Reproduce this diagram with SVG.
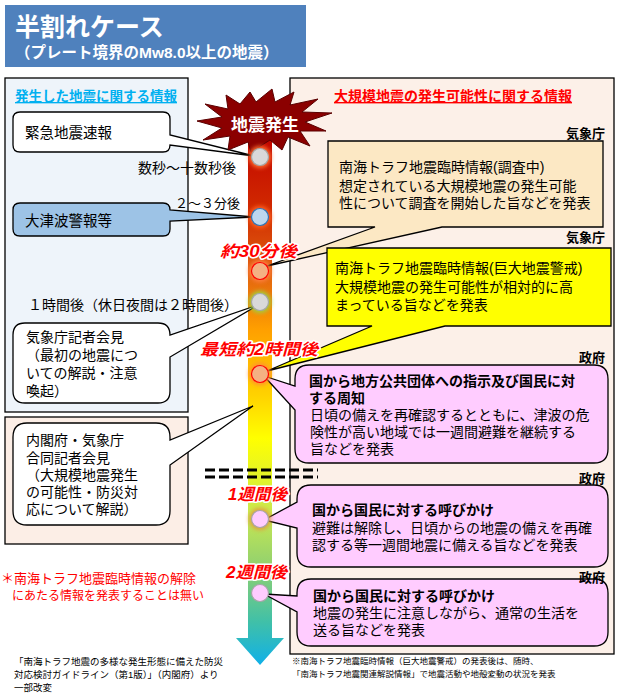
<svg xmlns="http://www.w3.org/2000/svg" width="621" height="693" viewBox="0 0 621 693">
<style>
text{font-family:'Liberation Sans','Noto Sans CJK JP',sans-serif;fill:#000}
.t14{font-size:14px}
.b{font-weight:700}
.org{font-size:13px;font-weight:700}
.lbl{font-size:16px;font-weight:700;font-style:italic;fill:#FF0000;stroke:#fff;stroke-width:3px;paint-order:stroke;stroke-linejoin:round}
.box{stroke:#000;stroke-width:1.3}
.pink{fill:#FFCCFF;stroke:#000;stroke-width:1.3}
.wht{fill:#fff;stroke:#000;stroke-width:1.3}
.note{font-size:9.5px}
</style>
<defs>
<linearGradient id="bar" gradientUnits="userSpaceOnUse" x1="0" y1="125" x2="0" y2="665">
<stop offset="0" stop-color="#C00000"/>
<stop offset="0.15" stop-color="#D02800"/>
<stop offset="0.27" stop-color="#E06010"/>
<stop offset="0.38" stop-color="#FFA000"/>
<stop offset="0.5" stop-color="#FFD200"/>
<stop offset="0.58" stop-color="#FFFF00"/>
<stop offset="0.72" stop-color="#C8E850"/>
<stop offset="0.82" stop-color="#90D070"/>
<stop offset="0.92" stop-color="#40C0A8"/>
<stop offset="1" stop-color="#10B0E8"/>
</linearGradient>
<filter id="glow" x="-50%" y="-50%" width="200%" height="200%"><feGaussianBlur stdDeviation="2"/></filter>
</defs>

<!-- title -->
<g id="title">
<rect x="5" y="5" width="301" height="62" fill="#4F81BD"/>
<text x="15" y="36" style="font-size:25px;font-weight:700;fill:#fff">半割れケース</text>
<text x="15" y="58" style="font-size:15.5px;font-weight:700;fill:#fff">（プレート境界のMw8.0以上の地震）</text>
</g>

<!-- panels -->
<g id="left-panel">
<rect x="5" y="78" width="183" height="334" fill="#EEF4FA" stroke="#000" stroke-width="1.3"/>
<text x="15" y="101" style="font-size:13.5px;font-weight:700;fill:#00B0F0;text-decoration:underline">発生した地震に関する情報</text>
</g>
<g id="left-panel-2">
<rect x="5" y="417" width="183" height="127" fill="#FCEEE6" stroke="#000" stroke-width="1.3"/>
</g>
<g id="right-panel">
<rect x="290" y="78" width="324" height="576" fill="#FCF0E8" stroke="#000" stroke-width="1.3"/>
<text x="334" y="101" style="font-size:14px;font-weight:700;fill:#FF0000;text-decoration:underline">大規模地震の発生可能性に関する情報</text>
</g>

<!-- timeline bar -->
<g id="timeline">
<path d="M248,125 H272 V638 H284 L260,665 L236,638 H248 Z" fill="url(#bar)"/>
</g>

<!-- connectors -->
<g id="connectors">
<line x1="205" y1="470" x2="318" y2="470" stroke="#000" stroke-width="3" stroke-dasharray="10,4"/>
<line x1="205" y1="477" x2="318" y2="477" stroke="#000" stroke-width="3" stroke-dasharray="10,4"/>
</g>

<!-- left callouts -->
<g id="kinkyu">
<path class="wht" d="M20,112 H163 Q170,112 170,119 V135 L254,156 L170,145 Q170,152 163,152 H20 Q13,152 13,145 V119 Q13,112 20,112 Z"/>
<text x="25" y="138" style="font-size:14.5px">緊急地震速報</text>
</g>
<g id="tsunami">
<path d="M20,203 H163 Q170,203 170,210 L254,217 L170,221 V229 Q170,236 163,236 H20 Q13,236 13,229 V210 Q13,203 20,203 Z" fill="#9DC3E6" stroke="#000" stroke-width="1.3"/>
<text x="25" y="226" style="font-size:14.5px">大津波警報等</text>
</g>
<g id="kaiken1">
<path class="wht" d="M25,323 H158 Q170,323 170,335 L258,305 L170,357 V391 Q170,403 158,403 H25 Q13,403 13,391 V335 Q13,323 25,323 Z"/>
<text class="t14"><tspan x="26" y="342">気象庁記者会見</tspan><tspan x="26" y="360">（最初の地震につ</tspan><tspan x="26" y="378">いての解説・注意</tspan><tspan x="26" y="396">喚起）</tspan></text>
</g>
<g id="kaiken2">
<path class="wht" d="M27,423 H156 Q170,423 170,437 V440 L253,406 L170,465 V511 Q170,525 156,525 H27 Q13,525 13,511 V437 Q13,423 27,423 Z"/>
<text class="t14"><tspan x="26" y="445">内閣府・気象庁</tspan><tspan x="26" y="463">合同記者会見</tspan><tspan x="26" y="480">（大規模地震発生</tspan><tspan x="26" y="497">の可能性・防災対</tspan><tspan x="26" y="514">応について解説）</tspan></text>
</g>

<!-- time texts left -->
<g id="time-left">
<text class="t14" x="236" y="173" text-anchor="end">数秒～十数秒後</text>
<text x="240" y="208" text-anchor="end" style="font-size:13px">２～３分後</text>
<text class="t14" x="238" y="310" text-anchor="end">１時間後（休日夜間は２時間後）</text>
</g>

<!-- right callouts -->
<g id="chousachu">
<text class="org" x="605" y="138" text-anchor="end">気象庁</text>
<path class="box" fill="#FCE8C4" d="M328,141 H603 V227 H442 L267,266 L375,227 H328 Z"/>
<text class="t14"><tspan x="339" y="172">南海トラフ地震臨時情報(調査中)</tspan><tspan x="339" y="191">想定されている大規模地震の発生可能</tspan><tspan x="339" y="208">性について調査を開始した旨などを発表</tspan></text>
</g>
<g id="keikai">
<text class="org" x="605" y="242" text-anchor="end">気象庁</text>
<path class="box" fill="#FFFF00" d="M327,248 H611 V326 H445 L267,371 L372,326 H327 Z"/>
<text class="t14"><tspan x="335" y="273">南海トラフ地震臨時情報(巨大地震警戒)</tspan><tspan x="335" y="292">大規模地震の発生可能性が相対的に高</tspan><tspan x="335" y="310">まっている旨などを発表</tspan></text>
</g>
<g id="seifu1">
<text class="org" x="605" y="362" text-anchor="end">政府</text>
<path class="pink" d="M309,365 H594 Q608,365 608,379 V449 Q608,463 594,463 H309 Q295,463 295,449 V410 L264,376 L295,386 V379 Q295,365 309,365 Z"/>
<text class="t14"><tspan class="b" x="309" y="386">国から地方公共団体への指示及び国民に対</tspan><tspan class="b" x="309" y="403">する周知</tspan><tspan x="310" y="420">日頃の備えを再確認するとともに、津波の危</tspan><tspan x="310" y="437">険性が高い地域では一週間避難を継続する</tspan><tspan x="310" y="454">旨などを発表</tspan></text>
</g>
<g id="seifu2">
<text class="org" x="605" y="483" text-anchor="end">政府</text>
<path class="pink" d="M311,485 H594 Q608,485 608,499 V553 Q608,567 594,567 H311 Q297,567 297,553 V528 L264,520 L297,502 V499 Q297,485 311,485 Z"/>
<text class="t14"><tspan class="b" x="312" y="515">国から国民に対する呼びかけ</tspan><tspan x="312" y="533">避難は解除し、日頃からの地震の備えを再確</tspan><tspan x="312" y="550">認する等一週間地震に備える旨などを発表</tspan></text>
</g>
<g id="seifu3">
<path class="pink" d="M311,579 H594 Q608,579 608,593 V632 Q608,646 594,646 H311 Q297,646 297,632 V612 L264,594 L297,596 V593 Q297,579 311,579 Z"/>
<text class="org" x="605" y="582" text-anchor="end">政府</text>
<text class="t14"><tspan class="b" x="313" y="601">国から国民に対する呼びかけ</tspan><tspan x="313" y="618">地震の発生に注意しながら、通常の生活を</tspan><tspan x="313" y="635">送る旨などを発表</tspan></text>
</g>

<!-- earthquake burst -->
<g id="jishin-hassei">
<polygon points="197,121 222,117 205,104 228,109 226,95 240,104 250,92 256,102 272,89 275,102 294,92 290,105 318,99 302,112 332,113 305,122 326,131 300,131 310,146 288,137 282,150 270,140 251,152 248,142 228,150 230,136 203,140 222,128" fill="#8B0000" stroke="#5A0000" stroke-width="1"/>
<text x="265" y="131" text-anchor="middle" style="font-size:17px;font-weight:700;fill:#fff">地震発生</text>
</g>

<!-- circles -->
<g id="points">
<circle cx="260" cy="157" r="11" fill="#FF7030" filter="url(#glow)"/>
<circle cx="260" cy="157" r="8.5" fill="#D9D9D9" stroke="#A6A6A6" stroke-width="1.2"/>
<circle cx="260" cy="217" r="11" fill="#FF6020" filter="url(#glow)"/>
<circle cx="260" cy="217" r="8.5" fill="#BDD7EE" stroke="#2E75B6" stroke-width="1.2"/>
<circle cx="260" cy="271" r="11" fill="#FF8040" filter="url(#glow)"/>
<circle cx="260" cy="271" r="8.5" fill="#F4B183" stroke="#FF0000" stroke-width="1.2"/>
<circle cx="260" cy="302" r="11" fill="#A0D040" filter="url(#glow)"/>
<circle cx="260" cy="302" r="8.5" fill="#D9D9D9" stroke="#A6A6A6" stroke-width="1.2"/>
<circle cx="260" cy="374" r="11" fill="#FF9030" filter="url(#glow)"/>
<circle cx="260" cy="374" r="8.5" fill="#F4B183" stroke="#FF0000" stroke-width="1.2"/>
<circle cx="260" cy="519" r="11" fill="#E0A040" filter="url(#glow)"/>
<circle cx="260" cy="519" r="8.5" fill="#FFCCFF" stroke="#A6A6A6" stroke-width="1.2"/>
<circle cx="260" cy="593" r="8.5" fill="#FFCCFF" stroke="#A6A6A6" stroke-width="1.2"/>
</g>

<!-- time labels -->
<g id="labels">
<text class="lbl" x="220" y="257" textLength="77" lengthAdjust="spacingAndGlyphs">約30分後</text>
<text class="lbl" x="200" y="355" textLength="118" lengthAdjust="spacingAndGlyphs">最短約2時間後</text>
<text class="lbl" x="228" y="500" textLength="59" lengthAdjust="spacingAndGlyphs">1週間後</text>
<text class="lbl" x="226" y="578" textLength="61" lengthAdjust="spacingAndGlyphs">2週間後</text>
</g>

<!-- notes -->
<g id="notes">
<text style="font-size:13px;fill:#FF0000"><tspan x="1" y="583">＊南海トラフ地震臨時情報の解除</tspan><tspan x="12" y="600" style="font-size:12px">にあたる情報を発表することは無い</tspan></text>
<text class="note"><tspan x="14" y="665">「南海トラフ地震の多様な発生形態に備えた防災</tspan><tspan x="14" y="678">対応検討ガイドライン（第1版）」（内閣府）より</tspan><tspan x="14" y="691">一部改変</tspan></text>
<text style="font-size:8.5px"><tspan x="292" y="664">※南海トラフ地震臨時情報（巨大地震警戒）の発表後は、随時、</tspan><tspan x="292" y="677">「南海トラフ地震関連解説情報」で地震活動や地殻変動の状況を発表</tspan></text>
</g>
</svg>
